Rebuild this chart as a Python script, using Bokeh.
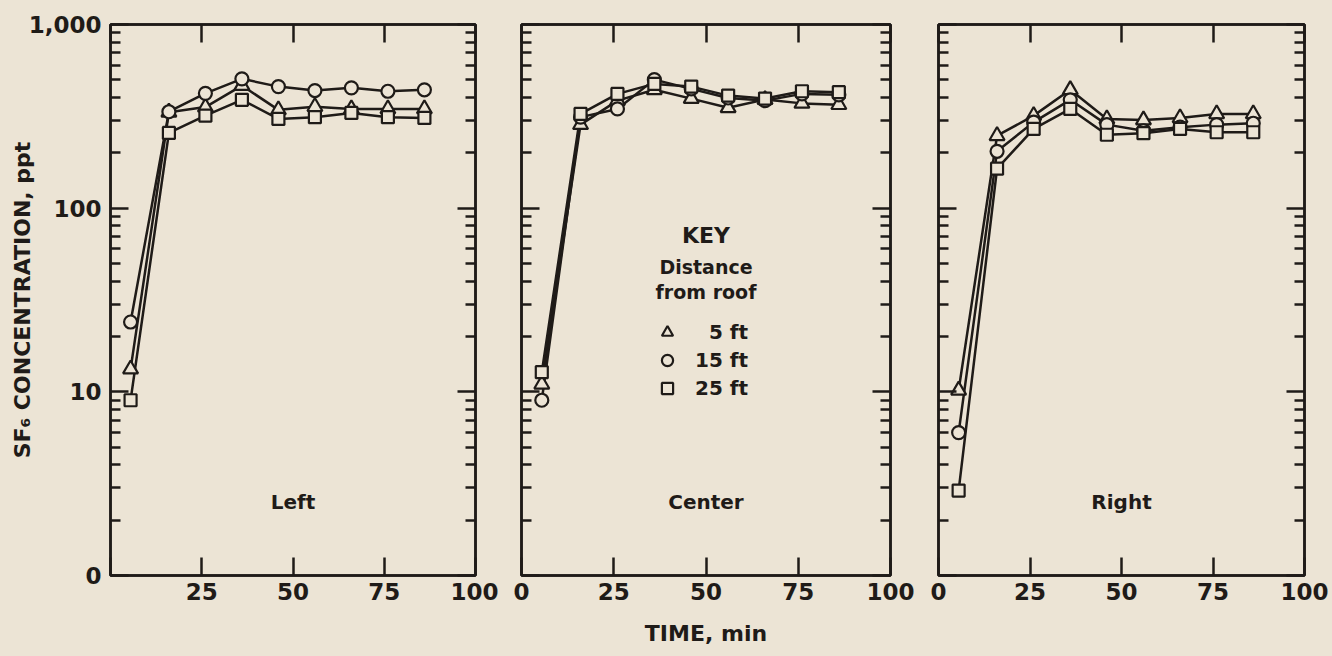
from bokeh.plotting import figure
from bokeh.layouts import row
from bokeh.models import (Range1d, FixedTicker, LogAxis, LinearAxis, Label,
                          Legend, LegendItem)
from bokeh.embed import file_html
from bokeh.resources import INLINE

# ---------------- data ----------------
time_min = [5.5, 16, 26, 36, 46, 56, 66, 76, 86]

left_5ft = [13.3, 333, 355, 465, 343, 357, 347, 347, 347]
left_15ft = [24, 335, 422, 506, 459, 437, 452, 433, 441]
left_25ft = [9.0, 257, 319, 389, 306, 313, 330, 313, 310]

center_5ft = [11.0, 285, 385, 441, 395, 352, 390, 372, 366]
center_15ft = [9.0, 313, 347, 501, 446, 398, 385, 419, 414]
center_25ft = [12.8, 326, 419, 475, 459, 410, 395, 433, 428]

right_5ft = [10.2, 248, 319, 441, 306, 302, 310, 326, 326]
right_15ft = [6.0, 204, 294, 389, 285, 264, 276, 285, 290]
right_25ft = [2.9, 164, 270, 347, 251, 256, 270, 259, 259]

panel_names = ["Left", "Center", "Right"]
series_labels = ["\u20075 ft", "15 ft", "25 ft"]
key_lines = ["KEY", "Distance", "from roof"]

x_ticks = [0, 25, 50, 75, 100]
x_tick_labels = ["0", "25", "50", "75", "100"]
y_ticks = [1, 10, 100, 1000]
y_tick_labels = ["0", "10", "100", "1,000"]
y_minor = [m * d for d in (1, 10, 100) for m in range(2, 10)]

x_title = "TIME, min"
y_title = "SF\u2086 CONCENTRATION, ppt"

# ---------------- style ----------------
BG = "#ece4d5"
INK = "#1f1b18"
FONT = "DejaVu Sans"
MARKERS = ["triangle", "circle", "square"]
MSIZES = [15, 13, 12]


def style_axis(ax, ticks, labels=True, standoff=10, size="23px"):
    ax.axis_line_color = INK
    ax.axis_line_width = 2.5
    ax.major_tick_line_color = INK
    ax.major_tick_line_width = 2.5
    ax.minor_tick_line_color = INK
    ax.minor_tick_line_width = 2.5
    ax.major_tick_in = 18
    ax.major_tick_out = 0
    ax.minor_tick_in = 10
    ax.minor_tick_out = 0
    ax.major_label_text_font = FONT
    ax.major_label_text_font_style = "bold"
    ax.major_label_text_color = INK
    if labels:
        ax.major_label_text_font_size = size
        ax.major_label_standoff = standoff
    else:
        ax.major_label_overrides = {t: "" for t in ticks}
        ax.major_label_text_font_size = "1px"
        ax.major_label_standoff = 0


def make_panel(idx, series, border_left, border_right):
    width = border_left + [365, 369, 366][idx] + border_right
    p = figure(width=width, height=656, title=None,
               x_range=Range1d(0, 100), y_range=Range1d(1, 1000),
               y_axis_type="log", output_backend="svg",
               toolbar_location=None,
               min_border_left=border_left, min_border_right=border_right,
               min_border_top=24, min_border_bottom=81,
               background_fill_color=BG, border_fill_color=BG,
               outline_line_color=INK, outline_line_width=2.5)
    p.xgrid.visible = False
    p.ygrid.visible = False

    # bottom x axis
    xax = p.xaxis[0]
    xax.ticker = FixedTicker(ticks=x_ticks)
    overrides = dict(zip(x_ticks, x_tick_labels))
    if idx == 0:
        overrides[0] = ""
    xax.major_label_overrides = overrides
    style_axis(xax, x_ticks, labels=True, standoff=7)

    # left y axis
    yax = p.yaxis[0]
    yax.ticker = FixedTicker(ticks=y_ticks, minor_ticks=y_minor)
    if idx == 0:
        yax.major_label_overrides = dict(zip(y_ticks, y_tick_labels))
        style_axis(yax, y_ticks, labels=True, standoff=9)
        yax.axis_label = y_title
        yax.axis_label_text_font = FONT
        yax.axis_label_text_font_size = "22px"
        yax.axis_label_text_font_style = "bold"
        yax.axis_label_text_color = INK
        yax.axis_label_standoff = -9
    else:
        style_axis(yax, y_ticks, labels=False)

    # top and right axes (ticks only)
    top = LinearAxis(ticker=FixedTicker(ticks=x_ticks))
    style_axis(top, x_ticks, labels=False)
    p.add_layout(top, "above")
    right = LogAxis(ticker=FixedTicker(ticks=y_ticks, minor_ticks=y_minor))
    style_axis(right, y_ticks, labels=False)
    p.add_layout(right, "right")

    # lines first, then open markers
    for ys in series:
        p.line(time_min, ys, line_color=INK, line_width=2.5)
    renderers = []
    for ys, mk, ms in zip(series, MARKERS, MSIZES):
        r = p.scatter(time_min, ys, marker=mk, size=ms, fill_color=BG,
                      line_color=INK, line_width=2.2)
        renderers.append(r)

    p.add_layout(Label(x=50, y=2.5, text=panel_names[idx],
                       text_align="center", text_baseline="middle",
                       text_font=FONT, text_font_size="20px",
                       text_font_style="bold", text_color=INK))
    return p, renderers, xax


p1, _, _ = make_panel(0, [left_5ft, left_15ft, left_25ft], 110, 23)
p2, rends, xa = make_panel(1, [center_5ft, center_15ft, center_25ft], 23, 24)
p3, _, _ = make_panel(2, [right_5ft, right_15ft, right_25ft], 24, 28)

# x axis title on the center panel's bottom axis
xa.axis_label = x_title
xa.axis_label_text_font = FONT
xa.axis_label_text_font_size = "22px"
xa.axis_label_text_font_style = "bold"
xa.axis_label_text_color = INK
xa.axis_label_standoff = 18

# key in the center panel
for txt, yv, sz in zip(key_lines, [71, 47.7, 34.8], ["22px", "19px", "19px"]):
    p2.add_layout(Label(x=50, y=yv, text=txt, text_align="center",
                        text_baseline="middle", text_font=FONT,
                        text_font_size=sz, text_font_style="bold",
                        text_color=INK))

legend = Legend(items=[LegendItem(label=lab, renderers=[r])
                       for lab, r in zip(series_labels, rends)],
                location=(132, 173), glyph_width=28, glyph_height=28,
                label_standoff=14, spacing=0, padding=0, margin=0,
                background_fill_alpha=0, border_line_alpha=0,
                label_text_font=FONT, label_text_font_size="20px",
                label_text_font_style="bold", label_text_color=INK)
p2.add_layout(legend)

layout = row(p1, p2, p3, spacing=0, styles={"background-color": BG})

open("out.html", "w").write(file_html(layout, INLINE))
